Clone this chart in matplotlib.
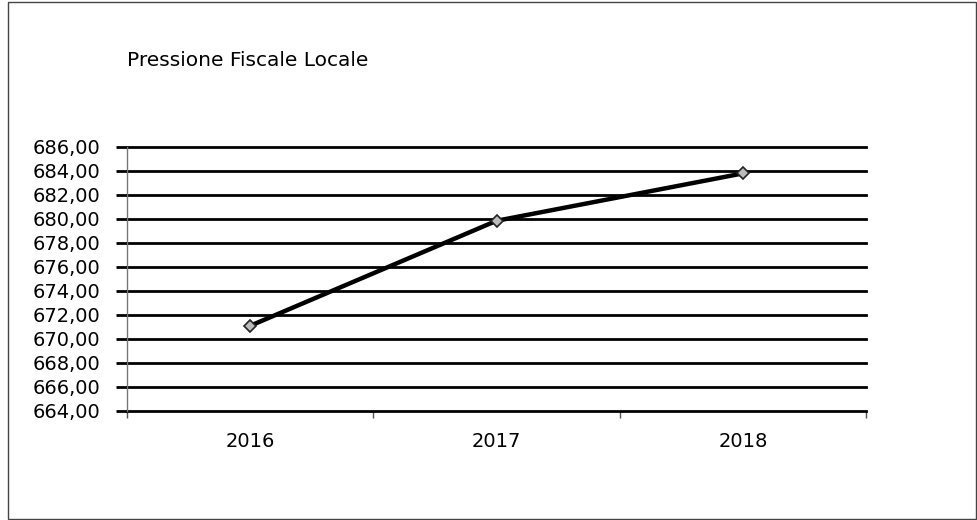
import matplotlib.pyplot as plt
from matplotlib.patches import Rectangle

anni = ['2016', '2017', '2018']
pressione = [671.10, 679.85, 683.80]
y_ticks = [664, 666, 668, 670, 672, 674, 676, 678, 680, 682, 684, 686]

fig = plt.figure(figsize=(9.78, 5.2), dpi=100)
ax = fig.add_axes([127/978, 1 - 411/520, (866 - 127)/978, (411 - 147)/520])

x = list(range(len(anni)))
ax.plot(x, pressione, color='black', lw=3.2, solid_capstyle='round', zorder=3)
ax.plot(x, pressione, ls='none', marker='D', ms=6, mfc='#bbbbbb', mec='#222222', mew=1.2, zorder=4)

ax.set_ylim(664, 686)
ax.set_xlim(-0.5, 2.5)
ax.set_yticks(y_ticks)
ax.set_yticklabels([f'{v:.2f}'.replace('.', ',') for v in y_ticks], fontsize=14)
ax.set_xticks(x)
ax.set_xticklabels(anni, fontsize=14)
ax.set_xticks([-0.5, 0.5, 1.5, 2.5], minor=True)
ax.tick_params(axis='x', which='major', length=0, pad=15)
ax.tick_params(axis='x', which='minor', length=5, width=1, color='#555555')
ax.tick_params(axis='y', length=8, width=2, color='black', pad=11)

ax.grid(axis='y', color='black', lw=2)
for line in ax.get_ygridlines():
    line.set_clip_on(False)
ax.set_axisbelow(True)
for s in ['top', 'right', 'bottom']:
    ax.spines[s].set_visible(False)
ax.spines['left'].set_color('#777777')
ax.spines['left'].set_linestyle((0, (2, 1)))
ax.spines['left'].set_linewidth(1)

fig.text(127/978, 1 - 60/520, 'Pressione Fiscale Locale', fontsize=14.5, va='center', ha='left')

fig.patches.append(Rectangle((8/978, 1/520), 968/978, 517/520, transform=fig.transFigure,
                             fill=False, ec='#444444', lw=1))

fig.savefig('out.png', dpi=100)
